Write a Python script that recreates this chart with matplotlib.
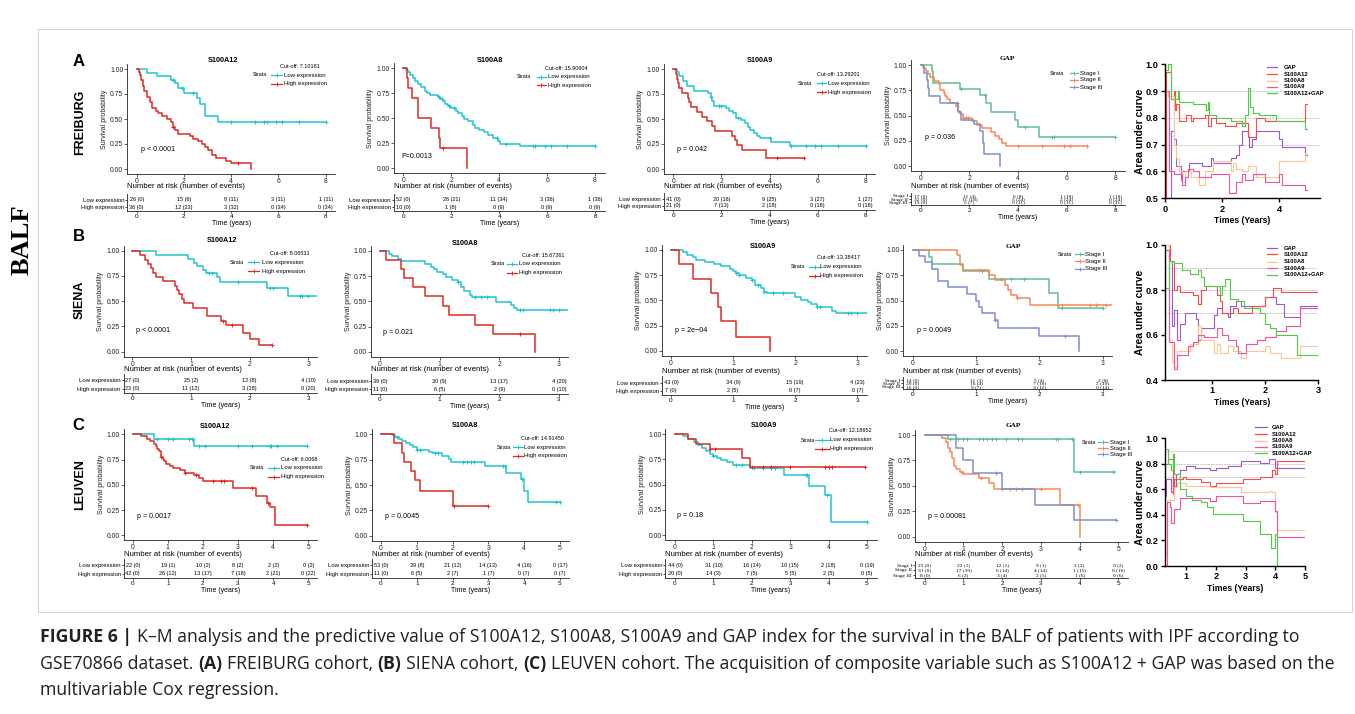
"""
Figura 6: curvas K-M (FREIBURG, SIENA, LEUVEN) e AUC dependente do tempo
"""
import matplotlib
matplotlib.use('Agg')
import matplotlib.pyplot as plt
from matplotlib.lines import Line2D
from matplotlib.patches import Rectangle
import numpy as np

W, H = 1355, 714
plt.rcParams['font.family'] = 'Liberation Sans'
plt.rcParams['axes.unicode_minus'] = False

# ---------------- dados K-M: (tempo, sobrevida) e censuras ----------------
A1_LOW = [(0, 1), (0.45, .96), (0.85, .93), (1.45, .89), (1.6, .86), (1.75, .81), (2.0, .76), (2.55, .71),
          (2.7, .65), (2.9, .53), (3.45, .47), (8.0, .47)]
A1_LOW_C = [1.55, 1.9, 2.4, 4.0, 5.0, 5.4, 5.5, 5.9, 6.15, 6.85, 8.0]
A1_HIGH = [(0, 1), (0.1, .97), (0.15, .94), (0.2, .89), (0.25, .83), (0.3, .78), (0.45, .72), (0.55, .67),
           (0.65, .61), (0.8, .58), (0.9, .56), (1.05, .53), (1.3, .50), (1.45, .47), (1.55, .42), (1.6, .39),
           (1.75, .35), (2.25, .33), (2.4, .30), (2.6, .28), (2.75, .25), (2.9, .22), (3.0, .19), (3.2, .14),
           (3.35, .11), (3.8, .08), (4.0, .06), (4.85, 0)]
A1_HIGH_C = [1.55, 4.3]

A2_LOW = [(0, 1), (0.1, .98), (0.2, .96), (0.3, .93), (0.4, .9), (0.5, .87), (0.6, .84), (0.75, .81), (0.9, .77),
          (1.0, .75), (1.1, .73), (1.45, .71), (1.55, .69), (1.65, .67), (1.75, .64), (1.85, .62), (2.0, .60),
          (2.2, .57), (2.3, .55), (2.45, .52), (2.55, .49), (2.7, .47), (2.9, .43), (3.0, .40), (3.15, .38),
          (3.35, .36), (3.55, .33), (3.75, .30), (3.95, .27), (4.05, .24), (4.85, .22), (8.0, .22)]
A2_LOW_C = [1.5, 1.6, 1.9, 2.1, 3.9, 4.3, 5.4, 5.5, 5.9, 6.15, 6.85, 8.0]
A2_HIGH = [(0, 1), (0.14, .9), (0.2, .8), (0.35, .7), (0.6, .5), (1.15, .4), (1.48, .3), (1.52, .2), (2.67, 0)]
A2_HIGH_C = [1.65]

A3_LOW = [(0, 1), (0.15, .97), (0.25, .93), (0.4, .88), (0.55, .83), (0.85, .78), (1.45, .76), (1.55, .72),
          (1.6, .68), (1.7, .63), (2.2, .61), (2.3, .58), (2.5, .56), (2.6, .51), (2.8, .49), (3.0, .46),
          (3.1, .42), (3.2, .39), (3.35, .36), (3.5, .33), (3.6, .31), (4.05, .27), (4.85, .23), (8.0, .23)]
A3_LOW_C = [1.55, 1.9, 2.0, 2.7, 4.0, 4.9, 5.5, 5.9, 6.15, 6.85, 8.0]
A3_HIGH = [(0, 1), (0.1, .95), (0.15, .90), (0.2, .86), (0.25, .81), (0.35, .76), (0.6, .71), (0.65, .67),
           (0.75, .62), (1.0, .57), (1.2, .52), (1.4, .48), (1.6, .43), (1.75, .38), (2.45, .33), (2.55, .29),
           (2.65, .24), (2.85, .19), (3.85, .11), (5.45, .11)]
A3_HIGH_C = [4.3, 5.45]

A4_S1 = [(0, 1), (0.45, .94), (0.52, .82), (1.62, .76), (2.45, .70), (2.68, .62), (2.9, .54), (3.88, .46),
         (4.0, .39), (4.85, .29), (8.0, .29)]
A4_S1_C = [1.65, 2.65, 4.3, 5.4, 5.5, 8.0]
A4_S2 = [(0, 1), (0.1, .97), (0.2, .94), (0.3, .91), (0.4, .88), (0.55, .84), (0.75, .81), (0.8, .75),
         (0.95, .72), (1.0, .69), (1.1, .66), (1.2, .62), (1.45, .60), (1.55, .55), (1.6, .52), (1.75, .48),
         (2.1, .45), (2.3, .41), (2.5, .38), (2.9, .34), (3.05, .30), (3.2, .27), (3.35, .23), (3.5, .20),
         (6.85, .20)]
A4_S2_C = [1.5, 1.75, 1.85, 1.95, 4.0, 5.0, 5.9, 6.15, 6.85]
A4_S3 = [(0, 1), (0.15, .92), (0.25, .85), (0.3, .77), (0.35, .69), (0.8, .62), (1.55, .54), (1.65, .46),
         (2.2, .42), (2.45, .35), (2.55, .23), (2.6, .12), (3.25, 0)]
A4_S3_C = [1.5]

B1_LOW = [(0, 1), (0.4, .96), (0.95, .92), (1.05, .88), (1.1, .85), (1.2, .81), (1.25, .78), (1.45, .74),
          (1.5, .69), (2.3, .63), (2.65, .55), (3.15, .55)]
B1_LOW_C = [1.3, 1.35, 1.8, 2.35, 2.4, 2.85, 2.9, 3.0]
B1_HIGH = [(0, 1), (0.13, .96), (0.22, .91), (0.27, .87), (0.32, .83), (0.36, .78), (0.4, .74), (0.53, .70),
           (0.73, .65), (0.76, .61), (0.8, .57), (0.84, .52), (0.88, .48), (1.04, .43), (1.27, .35), (1.52, .30),
           (1.6, .26), (1.88, .19), (2.0, .13), (2.16, .07), (2.38, .07)]
B1_HIGH_C = [1.55, 1.7, 2.38]

B2_LOW = [(0, 1), (0.15, .97), (0.2, .95), (0.3, .92), (0.35, .90), (0.75, .87), (0.85, .84), (0.9, .82),
          (0.95, .79), (1.05, .77), (1.1, .74), (1.2, .71), (1.3, .69), (1.35, .64), (1.4, .60), (1.5, .56),
          (1.55, .54), (1.95, .49), (2.2, .46), (2.25, .43), (2.3, .41), (3.15, .41)]
B2_LOW_C = [1.3, 1.6, 1.7, 1.8, 2.35, 2.4, 2.85, 2.9, 3.0]
B2_HIGH = [(0, 1), (0.1, .91), (0.35, .82), (0.4, .73), (0.55, .64), (0.75, .55), (1.05, .45), (1.15, .36),
           (1.6, .27), (1.9, .18), (2.6, 0)]
B2_HIGH_C = [2.35]

B3_LOW = [(0, 1), (0.2, .98), (0.25, .95), (0.35, .93), (0.4, .90), (0.55, .88), (0.7, .86), (0.8, .84),
          (0.95, .81), (1.0, .79), (1.05, .77), (1.1, .75), (1.2, .72), (1.3, .70), (1.35, .65), (1.45, .62),
          (1.5, .58), (1.55, .57), (2.0, .53), (2.1, .50), (2.2, .48), (2.25, .46), (2.35, .43), (2.6, .39),
          (2.65, .37), (3.15, .37)]
B3_LOW_C = [1.05, 1.1, 1.3, 1.4, 1.5, 1.65, 1.8, 2.35, 2.4, 2.85, 2.9, 3.0]
B3_HIGH = [(0, 1), (0.13, .86), (0.35, .71), (0.65, .57), (0.76, .43), (0.8, .29), (1.05, .14), (1.6, 0)]
B3_HIGH_C = []

B4_S1 = [(0, 1), (0.25, .93), (0.3, .86), (0.8, .79), (1.2, .71), (2.15, .57), (2.3, .43), (3.0, .43)]
B4_S1_C = [1.1, 1.4, 1.55, 1.75, 2.35, 3.0]
B4_S2 = [(0, 1), (0.7, .95), (0.75, .85), (0.8, .80), (1.2, .75), (1.3, .70), (1.45, .65), (1.5, .60),
         (1.55, .55), (1.65, .52), (1.85, .46), (3.15, .46)]
B4_S2_C = [1.05, 1.65, 2.35, 2.8, 2.9, 3.05]
B4_S3 = [(0, 1), (0.1, .94), (0.2, .88), (0.3, .81), (0.4, .69), (0.55, .63), (0.85, .56), (1.0, .50),
         (1.05, .44), (1.1, .38), (1.3, .31), (1.35, .23), (2.0, .15), (2.63, 0)]
B4_S3_C = [1.3, 2.4]

C1_LOW = [(0, 1), (0.6, .95), (1.75, .88), (4.95, .88)]
C1_LOW_C = [0.7, 1.0, 1.15, 1.6, 1.7, 1.9, 2.05, 3.0, 3.4, 3.9, 3.95, 4.1, 4.95]
C1_HIGH = [(0, 1), (0.25, .98), (0.4, .95), (0.5, .93), (0.6, .90), (0.65, .88), (0.7, .85), (0.75, .83),
           (0.8, .78), (0.85, .76), (0.9, .74), (0.95, .71), (1.05, .69), (1.15, .67), (1.35, .65), (1.5, .62),
           (1.75, .60), (1.9, .57), (2.0, .54), (2.85, .47), (3.5, .39), (3.82, .32), (3.92, .28), (4.05, .105),
           (4.95, .105)]
C1_HIGH_C = [0.8, 1.5, 1.8, 2.3, 2.5, 2.6, 3.4, 3.85, 4.95]

C2_LOW = [(0, 1), (0.3, .99), (0.4, .97), (0.5, .95), (0.6, .93), (0.7, .91), (0.8, .89), (0.9, .87), (1.0, .85),
          (1.35, .83), (1.45, .82), (1.7, .79), (1.9, .76), (1.95, .73), (2.9, .69), (3.5, .62), (3.9, .56),
          (4.0, .44), (4.1, .33), (5.0, .33)]
C2_LOW_C = [0.45, 1.0, 1.1, 1.5, 1.6, 2.3, 2.4, 2.5, 2.6, 3.4, 3.45, 3.95, 4.9, 5.0]
C2_HIGH = [(0, 1), (0.35, .91), (0.6, .82), (0.65, .73), (0.85, .64), (0.95, .55), (1.1, .44), (2.0, .29),
           (3.0, .29)]
C2_HIGH_C = [2.05, 3.0]

C3_LOW = [(0, 1), (0.2, .98), (0.35, .95), (0.5, .92), (0.6, .89), (0.7, .86), (0.8, .83), (0.9, .80),
          (1.0, .78), (1.1, .76), (1.2, .74), (1.35, .72), (1.5, .69), (1.95, .66), (2.85, .59), (3.5, .49),
          (3.9, .40), (4.05, .13), (5.0, .13)]
C3_LOW_C = [1.0, 1.6, 1.75, 2.05, 2.3, 2.5, 2.6, 3.4, 3.45, 3.95, 5.0]
C3_HIGH = [(0, 1), (0.35, .95), (0.55, .90), (0.9, .85), (1.75, .76), (1.95, .67), (4.95, .67)]
C3_HIGH_C = [0.9, 1.05, 2.0, 2.3, 2.5, 3.0, 3.9, 4.0, 4.1, 4.95]

C4_S1 = [(0, 1), (0.6, .96), (3.85, .64), (4.9, .64)]
C4_S1_C = [0.65, 0.85, 1.0, 1.1, 1.4, 1.5, 1.6, 1.75, 1.85, 2.1, 2.4, 2.5, 3.4, 3.45, 3.8, 4.0, 4.85]
C4_S2 = [(0, 1), (0.45, .97), (0.55, .93), (0.6, .87), (0.65, .83), (0.7, .77), (0.75, .70), (0.8, .67),
         (0.9, .64), (1.0, .62), (1.4, .58), (1.65, .53), (1.8, .47), (3.5, .31), (4.0, 0)]
C4_S2_C = [0.95, 1.45, 2.0, 2.2, 2.35, 2.5, 3.0, 3.95]
C4_S3 = [(0, 1), (0.8, .875), (1.0, .75), (1.25, .625), (2.0, .47), (2.85, .31), (3.85, .16), (4.95, .16)]
C4_S3_C = [1.85, 4.95]

# ---------------- tabelas de risco: (n em risco, eventos) ----------------
A1_RISK = [[(26, 0), (15, 6), (8, 11), (3, 11), (1, 11)], [(36, 0), (12, 23), (3, 32), (0, 34), (0, 34)]]
A2_RISK = [[(52, 0), (26, 21), (11, 34), (3, 36), (1, 36)], [(10, 0), (1, 8), (0, 9), (0, 9), (0, 9)]]
A3_RISK = [[(41, 0), (20, 16), (9, 25), (3, 27), (1, 27)], [(21, 0), (7, 13), (2, 18), (0, 18), (0, 18)]]
A4_RISK = [[(17, 0), (11, 4), (6, 8), (1, 10), (1, 10)], [(32, 0), (11, 18), (5, 24), (2, 24), (0, 24)],
           [(13, 0), (5, 7), (0, 11), (0, 11), (0, 11)]]
B1_RISK = [[(27, 0), (25, 2), (12, 8), (4, 10)], [(23, 0), (11, 12), (3, 18), (0, 20)]]
B2_RISK = [[(39, 0), (30, 9), (13, 17), (4, 20)], [(11, 0), (6, 5), (2, 9), (0, 10)]]
B3_RISK = [[(43, 0), (34, 9), (15, 19), (4, 23)], [(7, 0), (2, 5), (0, 7), (0, 7)]]
B4_RISK = [[(14, 0), (11, 3), (5, 4), (2, 8)], [(20, 0), (16, 4), (7, 10), (2, 10)],
           [(16, 0), (9, 7), (3, 12), (0, 14)]]
C1_RISK = [[(22, 0), (19, 1), (10, 2), (8, 2), (2, 2), (0, 2)], [(42, 0), (26, 12), (13, 17), (7, 18), (2, 21), (0, 22)]]
C2_RISK = [[(53, 0), (39, 8), (21, 12), (14, 13), (4, 16), (0, 17)], [(11, 0), (6, 5), (2, 7), (1, 7), (0, 7), (0, 7)]]
C3_RISK = [[(44, 0), (31, 10), (16, 14), (10, 15), (2, 18), (0, 19)], [(20, 0), (14, 3), (7, 5), (5, 5), (2, 5), (0, 5)]]
C4_RISK = [[(25, 0), (22, 1), (12, 1), (9, 1), (2, 2), (0, 2)], [(31, 0), (17, 10), (6, 14), (4, 14), (1, 15), (0, 16)],
           [(8, 0), (6, 2), (3, 4), (2, 5), (1, 6), (0, 6)]]

TIMES_A = [0, 2, 4, 6, 8]
TIMES_B = [0, 1, 2, 3]
TIMES_C = [0, 1, 2, 3, 4, 5]
EXPR_LABELS = ['Low expression', 'High expression']
STAGE_LABELS = ['Stage I', 'Stage II', 'Stage III']
CUTOFFS = {'A1': '7.10181', 'A2': '15.90604', 'A3': '13.29201', 'B1': '8.06531', 'B2': '15.67261',
           'B3': '13.38417', 'C1': '6.0068', 'C2': '14.91450', 'C3': '12.18652'}
PVALUES = {'A1': 'p < 0.0001', 'A2': 'P=0.0013', 'A3': 'p = 0.042', 'A4': 'p = 0.036',
           'B1': 'p < 0.0001', 'B2': 'p = 0.021', 'B3': 'p = 2e\u221204', 'B4': 'p = 0.0049',
           'C1': 'p = 0.0017', 'C2': 'p = 0.0045', 'C3': 'p = 0.18', 'C4': 'p = 0.00081'}

# ---------------- AUC dependente do tempo: (tempo, AUC) ----------------
AUC_NAMES = ['GAP', 'S100A12', 'S100A8', 'S100A9', 'S100A12+GAP']
A5_GAP = [(0.1, .5), (0.2, .75), (0.3, .72), (0.4, .62), (0.55, .57), (0.6, .6), (0.85, .63), (1.3, .62),
          (1.6, .65), (1.7, .63), (2.3, .65), (2.5, .66), (2.6, .70), (2.7, .75), (2.9, .73), (2.95, .69),
          (3.05, .72), (3.2, .75), (4.0, .72), (4.1, .69), (4.9, .66), (5.0, .66)]
A5_S100A12 = [(0.02, .45), (0.05, .97), (0.2, .87), (0.3, .9), (0.35, .83), (0.4, .85), (0.5, .79), (0.75, .81),
              (0.9, .79), (1.0, .8), (1.4, .81), (1.5, .77), (1.6, .80), (1.8, .78), (2.1, .77), (2.5, .78),
              (2.9, .73), (3.2, .80), (3.5, .79), (4.9, .85), (5.0, .85)]
A5_S100A8 = [(0.05, .9), (0.1, .88), (0.3, .7), (0.4, .65), (0.5, .6), (0.6, .56), (0.7, .6), (0.9, .58),
             (1.2, .55), (1.4, .6), (1.7, .64), (2.3, .6), (2.4, .63), (2.5, .61), (2.7, .6), (2.9, .62),
             (3.2, .58), (4.0, .64), (4.9, .67), (5.0, .67)]
A5_S100A9 = [(0.05, .9), (0.15, .6), (0.3, .59), (0.6, .55), (0.7, .58), (0.8, .61), (1.0, .6), (1.2, .58),
             (1.6, .59), (2.25, .52), (2.5, .56), (2.7, .59), (2.8, .57), (3.1, .59), (3.5, .56), (4.0, .59),
             (4.1, .55), (4.9, .53), (5.0, .53)]
A5_COMB = [(0.05, .98), (0.1, 1.0), (0.2, .87), (0.45, .9), (0.5, .86), (1.0, .85), (1.45, .83), (1.5, .86),
           (1.55, .81), (1.8, .80), (2.3, .79), (2.7, .77), (2.8, .81), (2.9, .91), (3.0, .84), (3.1, .82),
           (3.3, .81), (3.9, .79), (4.9, .76), (5.0, .76)]

B5_GAP = [(0.13, .98), (0.2, .93), (0.25, .64), (0.3, .71), (0.35, .58), (0.4, .65), (0.5, .70), (0.7, .67),
          (0.75, .58), (0.8, .63), (1.05, .69), (1.1, .72), (1.2, .70), (1.3, .68), (1.35, .73), (1.45, .75),
          (1.55, .73), (2.0, .77), (2.2, .74), (2.35, .68), (2.65, .73), (3.0, .73)]
B5_S100A12 = [(0.13, 1.0), (0.22, .93), (0.3, .8), (0.35, .82), (0.4, .79), (0.65, .78), (0.75, .74), (0.8, .80),
              (0.9, .82), (1.1, .78), (1.15, .75), (1.2, .70), (1.4, .72), (1.5, .70), (1.75, .73), (2.0, .77),
              (2.15, .81), (2.3, .79), (3.0, .79)]
B5_S100A8 = [(0.13, 1.0), (0.2, .58), (0.25, .48), (0.3, .46), (0.35, .53), (0.6, .56), (0.75, .64), (0.8, .58),
             (1.05, .52), (1.1, .56), (1.15, .52), (1.3, .55), (1.4, .53), (1.55, .50), (1.65, .53), (2.0, .55),
             (2.1, .52), (2.3, .50), (2.65, .55), (3.0, .55)]
B5_S100A9 = [(0.13, .98), (0.2, .57), (0.3, .45), (0.35, .51), (0.55, .55), (0.65, .57), (0.75, .60), (0.85, .59),
             (1.1, .63), (1.2, .60), (1.3, .58), (1.45, .55), (1.5, .52), (1.65, .56), (1.85, .58), (2.0, .59),
             (2.2, .62), (2.4, .64), (2.65, .72), (3.0, .72)]
B5_COMB = [(0.13, .81), (0.2, .93), (0.3, .92), (0.45, .89), (0.6, .87), (0.75, .89), (0.8, .86), (0.85, .82),
           (1.15, .78), (1.2, .82), (1.25, .85), (1.35, .76), (1.5, .75), (1.6, .72), (1.9, .70), (2.0, .65),
           (2.1, .63), (2.2, .60), (2.6, .51), (3.0, .51)]

C5_GAP = [(0.3, .55), (0.33, .68), (0.5, .58), (0.6, .63), (0.65, .72), (0.8, .75), (1.0, .78), (1.3, .77),
          (1.8, .75), (2.0, .77), (2.4, .78), (2.85, .82), (3.5, .81), (3.8, .84), (4.0, .77), (5.0, .77)]
C5_S100A12 = [(0.3, .80), (0.4, .84), (0.55, .56), (0.6, .68), (0.9, .70), (1.0, .68), (1.5, .66), (1.8, .63),
              (2.0, .65), (2.9, .68), (3.5, .70), (3.9, .75), (4.0, .72), (4.05, .82), (5.0, .82)]
C5_S100A8 = [(0.3, .1), (0.35, .52), (0.6, .62), (0.7, .65), (1.0, .63), (1.8, .62), (2.85, .58), (3.8, .59),
             (3.9, .58), (4.0, .42), (4.05, .28), (5.0, .28)]
C5_S100A9 = [(0.3, 0.0), (0.35, .50), (0.45, .46), (0.5, .34), (0.6, .45), (0.8, .53), (1.8, .51), (2.0, .55),
             (2.9, .49), (3.5, .51), (4.0, .43), (4.05, .23), (5.0, .23)]
C5_COMB = [(0.3, .92), (0.4, .80), (0.5, .75), (0.55, .88), (0.6, .72), (0.8, .60), (1.0, .55), (1.2, .52),
           (1.5, .50), (1.7, .46), (1.9, .41), (2.9, .35), (3.5, .25), (3.85, .14), (4.0, .25), (4.05, 0.0)]

# ---------------- cores ----------------
CYAN = '#22c3cd'
RED = '#dc2b24'
STAGE_COLORS = ['#5fbf95', '#f8865a', '#7f90cb']
AUC_COLORS = ['#9d5ac8', '#ff4848', '#fbc690', '#f2529e', '#4fcc45']

fig = plt.figure(figsize=(W / 100, H / 100), dpi=100)


def fx(x):
    return x / W


def fy(y):
    return 1 - y / H


def ftext(x, y, s, **kw):
    return fig.text(fx(x), fy(y), s, **kw)


def px_axes(left, top, right, bottom):
    return fig.add_axes([fx(left), fy(bottom), (right - left) / W, (bottom - top) / H])


def km_panel(key, lay, curves, colors, labels, risk, times, serif=False):
    T = times[-1]
    s = (lay['x1'] - lay['x0']) / T
    xlim = (-0.05 * T, 1.05 * T)
    left, right = lay['x0'] + xlim[0] * s, lay['x0'] + xlim[1] * s
    sy = lay['y0'] - lay['y1']
    ax = px_axes(left, lay['y1'] - 0.05 * sy, right, lay['y0'] + 0.05 * sy)
    ax.set_xlim(xlim)
    ax.set_ylim(-0.05, 1.05)
    for (pts, cens), c in zip(curves, colors):
        t = np.array([p[0] for p in pts])
        v = np.array([p[1] for p in pts])
        ax.step(t, v, where='post', color=c, lw=1.1)
        if cens:
            idx = np.searchsorted(t, cens, side='right') - 1
            ax.plot(cens, v[idx], ls='none', marker='+', ms=3.2, mew=0.7, color=c)
    for sp in ['top', 'right']:
        ax.spines[sp].set_visible(False)
    for sp in ['left', 'bottom']:
        ax.spines[sp].set_linewidth(0.6)
        ax.spines[sp].set_color('#222222')
    ax.set_xticks(times)
    ax.set_yticks([0, .25, .5, .75, 1])
    ax.set_yticklabels(['0.00', '0.25', '0.50', '0.75', '1.00'])
    ax.tick_params(labelsize=4.9, length=2, width=0.5, pad=0.8, colors='#222222')
    ax.set_ylabel('Survival probability', fontsize=5, labelpad=1.5, color='#222222')

    tfam = 'Liberation Serif' if serif else 'Liberation Sans'
    ftext(*lay['title'], lay['name'], fontsize=5.2, fontweight='bold',
          family=tfam, ha='center', va='center')
    ftext(*lay['p'], PVALUES[key], fontsize=5.1, ha='left', va='center')

    # legenda
    if key in CUTOFFS:
        ftext(*lay['cut'], 'Cut-off: ' + CUTOFFS[key], fontsize=4.0, ha='center', va='center')
    ftext(lay['strata'], lay['ys'][0], 'Strata', fontsize=3.8, ha='center', va='center')
    for yy, lab, c in zip(lay['ys'], labels, colors):
        fig.add_artist(Line2D([fx(lay['lx'][0]), fx(lay['lx'][1])], [fy(yy)] * 2, color=c, lw=0.9))
        fig.add_artist(Line2D([fx((lay['lx'][0] + lay['lx'][1]) / 2)], [fy(yy)], marker='+', ms=3,
                              mew=0.7, color=c))
        ftext(lay['tx'], yy, lab, fontsize=4.3, ha='left', va='center')

    # tabela de risco
    ftext(left, lay['nar'], 'Number at risk (number of events)', fontsize=5.6, ha='left', va='center')
    rows_y, axis_y = lay['rows'], lay['axis']
    n = len(rows_y)
    d = rows_y[1] - rows_y[0]
    tax = px_axes(left, rows_y[0] - 0.8 * d, right, axis_y)
    tax.set_xlim(xlim)
    tax.set_ylim(n - (axis_y - rows_y[0]) / d, n + 0.8)
    fam = 'Liberation Serif' if serif else 'Liberation Sans'
    fs = 3.9 if serif else 4.0
    for i, row in enumerate(risk):
        for tt, (nr, ev) in zip(times, row):
            tax.text(tt, n - i, f'{nr} ({ev})', ha='center', va='center', fontsize=fs, family=fam)
    tax.set_yticks(list(range(n, 0, -1)))
    tax.set_yticklabels(labels, fontsize=fs if serif else 4.3, family=fam)
    tax.set_xticks(times)
    for sp in ['top', 'right']:
        tax.spines[sp].set_visible(False)
    for sp in ['left', 'bottom']:
        tax.spines[sp].set_linewidth(0.6)
        tax.spines[sp].set_color('#222222')
    tax.tick_params(axis='x', labelsize=4.6, length=1.5, width=0.5, pad=0.8)
    tax.tick_params(axis='y', length=1.5, width=0.5, pad=0.6)
    tax.set_xlabel('Time (years)', fontsize=5, labelpad=0.6)


def auc_panel(lay, series, xticks, yticks):
    ax = px_axes(lay['l'], lay['t'], lay['r'], lay['b'])
    ax.set_xlim(lay['xlim'])
    ax.set_ylim(lay['ylim'])
    for v in (0.7, 0.8, 0.9):
        ax.axhline(v, color='#b8b8b8', ls=(0, (2, 1.2)), lw=0.6, zorder=0)
    for pts, c in zip(series, AUC_COLORS):
        ax.plot([p[0] for p in pts], [p[1] for p in pts], drawstyle='steps-post', color=c, lw=0.8)
    for sp in ['top', 'right']:
        ax.spines[sp].set_visible(False)
    for sp in ['left', 'bottom']:
        ax.spines[sp].set_linewidth(1.0)
    ax.set_xticks(xticks)
    ax.set_yticks(yticks)
    ax.set_yticklabels([f'{v:.1f}' for v in yticks])
    ax.tick_params(labelsize=6.6, length=3, width=1.0, pad=1.5)
    for lab in ax.get_xticklabels() + ax.get_yticklabels():
        lab.set_fontweight('bold')
    ax.set_ylabel('Area under curve', fontsize=7.4, fontweight='bold', labelpad=0.5)
    ax.set_xlabel('Times (Years)', fontsize=6.2, fontweight='bold', labelpad=2)
    for yy, name, c in zip(lay['leg_y'], AUC_NAMES, AUC_COLORS):
        fig.add_artist(Line2D([fx(lay['leg_x'][0]), fx(lay['leg_x'][1])], [fy(yy)] * 2, color=c, lw=0.9))
        ftext(lay['leg_tx'], yy, name, fontsize=4.2, fontweight='bold', ha='left', va='center')


# ---------------- posicoes (pixels) ----------------
LAY = {
    'A1': dict(name='S100A12', x0=136.7, x1=325.7, y1=69, y0=169, title=(222.7, 61), p=(141, 149.3),
               cut=(300, 66), strata=260, lx=(271, 282), tx=284, ys=(75, 84), nar=187, rows=(200, 207), axis=211),
    'A2': dict(name='S100A8', x0=403.3, x1=595, y1=68.3, y0=168.3, title=(490, 60), p=(401.7, 156.7),
               cut=(566.7, 69), strata=524, lx=(536.7, 546), tx=547.5, ys=(76.7, 85), nar=187, rows=(200, 207), axis=211),
    'A3': dict(name='S100A9', x0=673.3, x1=865.7, y1=69, y0=169, title=(760, 60), p=(676.7, 149.3),
               cut=(838.3, 74.3), strata=805, lx=(817.3, 826), tx=827.5, ys=(83.3, 92.3), nar=186.5, rows=(199, 206), axis=210),
    'A4': dict(name='GAP', x0=920.7, x1=1115.3, y1=65, y0=166.3, title=(1007, 58), p=(925, 137.3),
               strata=1056.7, lx=(1070, 1078.3), tx=1079.5, ys=(73.3, 80, 87.3), nar=186.5, rows=(195.7, 199, 202.3), axis=205),
    'B1': dict(name='S100A12', x0=132.3, x1=308.3, y1=250.7, y0=351.7, title=(221.7, 240.7), p=(136, 330),
               cut=(290, 253.3), strata=236.7, lx=(248.3, 259.3), tx=261.7, ys=(262.3, 271), nar=369.5, rows=(380.3, 388.7), axis=393.3),
    'B2': dict(name='S100A8', x0=380, x1=559, y1=251, y0=351.7, title=(465, 243.3), p=(383.3, 332.3),
               cut=(543.3, 255), strata=498.3, lx=(506.7, 517.3), tx=519.3, ys=(263.7, 272.7), nar=369.5, rows=(381, 389.3), axis=394),
    'B3': dict(name='S100A9', x0=671, x1=857.3, y1=250, y0=350.7, title=(763.3, 246.7), p=(675, 330.7),
               cut=(838.3, 257.7), strata=798.3, lx=(809.3, 820), tx=820.5, ys=(266.7, 275.7), nar=371, rows=(382.7, 390.7), axis=395),
    'B4': dict(name='GAP', x0=912.7, x1=1102.7, y1=250, y0=351, title=(1013.3, 246.7), p=(916.7, 331),
               strata=1065, lx=(1075, 1084), tx=1085, ys=(254, 261.3, 268.7), nar=371, rows=(380, 383.3, 386.7), axis=389.3),
    'C1': dict(name='S100A12', x0=132.7, x1=308.3, y1=434.3, y0=535.3, title=(215, 426.7), p=(136.7, 516),
               cut=(299.3, 459.3), strata=256.7, lx=(268.3, 279.3), tx=280.7, ys=(467.7, 476.7), nar=554, rows=(565.3, 573.7), axis=578.3),
    'C2': dict(name='S100A8', x0=381, x1=560, y1=434.3, y0=535.7, title=(465, 425.7), p=(385, 516),
               cut=(542.7, 439), strata=504.3, lx=(513.3, 523.3), tx=524, ys=(447.3, 455.7), nar=554, rows=(565.3, 573.7), axis=578.3),
    'C3': dict(name='S100A9', x0=675, x1=867, y1=434, y0=535, title=(764, 425.7), p=(677.2, 515.7),
               cut=(850.7, 430.7), strata=807.5, lx=(814.5, 828.6), tx=830, ys=(440, 448.7), nar=554, rows=(565.3, 573.7), axis=578.3),
    'C4': dict(name='GAP', x0=924.7, x1=1118.4, y1=435, y0=536.7, title=(1013.8, 425.7), p=(928, 516.7),
               strata=1088.8, lx=(1098, 1108), tx=1110, ys=(442.3, 448.3, 454.3), nar=554, rows=(565, 570, 574.7), axis=577.7),
}

EXPR = [CYAN, RED]
km_panel('A1', LAY['A1'], [(A1_LOW, A1_LOW_C), (A1_HIGH, A1_HIGH_C)], EXPR, EXPR_LABELS, A1_RISK, TIMES_A)
km_panel('A2', LAY['A2'], [(A2_LOW, A2_LOW_C), (A2_HIGH, A2_HIGH_C)], EXPR, EXPR_LABELS, A2_RISK, TIMES_A)
km_panel('A3', LAY['A3'], [(A3_LOW, A3_LOW_C), (A3_HIGH, A3_HIGH_C)], EXPR, EXPR_LABELS, A3_RISK, TIMES_A)
km_panel('A4', LAY['A4'], [(A4_S1, A4_S1_C), (A4_S2, A4_S2_C), (A4_S3, A4_S3_C)], STAGE_COLORS, STAGE_LABELS,
         A4_RISK, TIMES_A, serif=True)
km_panel('B1', LAY['B1'], [(B1_LOW, B1_LOW_C), (B1_HIGH, B1_HIGH_C)], EXPR, EXPR_LABELS, B1_RISK, TIMES_B)
km_panel('B2', LAY['B2'], [(B2_LOW, B2_LOW_C), (B2_HIGH, B2_HIGH_C)], EXPR, EXPR_LABELS, B2_RISK, TIMES_B)
km_panel('B3', LAY['B3'], [(B3_LOW, B3_LOW_C), (B3_HIGH, B3_HIGH_C)], EXPR, EXPR_LABELS, B3_RISK, TIMES_B)
km_panel('B4', LAY['B4'], [(B4_S1, B4_S1_C), (B4_S2, B4_S2_C), (B4_S3, B4_S3_C)], STAGE_COLORS, STAGE_LABELS,
         B4_RISK, TIMES_B, serif=True)
km_panel('C1', LAY['C1'], [(C1_LOW, C1_LOW_C), (C1_HIGH, C1_HIGH_C)], EXPR, EXPR_LABELS, C1_RISK, TIMES_C)
km_panel('C2', LAY['C2'], [(C2_LOW, C2_LOW_C), (C2_HIGH, C2_HIGH_C)], EXPR, EXPR_LABELS, C2_RISK, TIMES_C)
km_panel('C3', LAY['C3'], [(C3_LOW, C3_LOW_C), (C3_HIGH, C3_HIGH_C)], EXPR, EXPR_LABELS, C3_RISK, TIMES_C)
km_panel('C4', LAY['C4'], [(C4_S1, C4_S1_C), (C4_S2, C4_S2_C), (C4_S3, C4_S3_C)], STAGE_COLORS, STAGE_LABELS,
         C4_RISK, TIMES_C, serif=True)

AUC_LAY = {
    'A': dict(l=1165, t=64.3, r=1320, b=198.3, xlim=(0, 5.44), ylim=(0.5, 1.0),
              leg_x=(1267, 1277), leg_tx=1284, leg_y=(67.3, 74.3, 81, 86.7, 93.3)),
    'B': dict(l=1165, t=245, r=1318.3, b=380, xlim=(0.125, 3.0), ylim=(0.4, 1.0),
              leg_x=(1267, 1277), leg_tx=1284, leg_y=(248.3, 254.3, 261.7, 268.3, 275)),
    'C': dict(l=1165, t=438.3, r=1305, b=566, xlim=(0.294, 5.0), ylim=(0.0, 1.0),
              leg_x=(1255, 1267), leg_tx=1271.6, leg_y=(427.3, 434.3, 440.7, 446.7, 453.3)),
}
auc_panel(AUC_LAY['A'], [A5_GAP, A5_S100A12, A5_S100A8, A5_S100A9, A5_COMB], [0, 2, 4],
          [0.5, 0.6, 0.7, 0.8, 0.9, 1.0])
auc_panel(AUC_LAY['B'], [B5_GAP, B5_S100A12, B5_S100A8, B5_S100A9, B5_COMB], [1, 2, 3],
          [0.4, 0.6, 0.8, 1.0])
auc_panel(AUC_LAY['C'], [C5_GAP, C5_S100A12, C5_S100A8, C5_S100A9, C5_COMB], [1, 2, 3, 4, 5],
          [0.0, 0.2, 0.4, 0.6, 0.8, 1.0])

# ---------------- rotulos de linha / coorte ----------------
for letter, yy in (('A', 62), ('B', 237), ('C', 425)):
    ftext(78.5, yy, letter, fontsize=12, fontweight='bold', ha='center', va='center')
for name, yy in (('FREIBURG', 122), ('SIENA', 300), ('LEUVEN', 485)):
    ftext(80, yy, name, fontsize=9, fontweight='bold', rotation=90, ha='center', va='center')
ftext(22, 240, 'BALF', fontsize=19, fontweight='bold', family='Liberation Serif', rotation=90,
      ha='center', va='center')

fig.add_artist(Rectangle((fx(38), fy(612)), (1352 - 38) / W, (612 - 29) / H, transform=fig.transFigure,
                         fill=False, ec='#d4d4d4', lw=0.8))

# ---------------- legenda da figura ----------------
renderer = fig.canvas.get_renderer()
CAP_FS = 12.7
CAP_COLOR = '#231f20'


def text_width(s, bold=False):
    t = fig.text(0, 0, s, fontsize=CAP_FS, family='Open Sans', fontweight='bold' if bold else 'normal')
    w = t.get_window_extent(renderer).width
    t.remove()
    return w


SPACE = text_width('a a') - text_width('aa')


def caption_line(x, y, parts):
    for txt, bold in parts:
        t = ftext(x, y, txt, fontsize=CAP_FS, family='Open Sans', fontweight='bold' if bold else 'normal',
                  ha='left', va='center', color=CAP_COLOR)
        x += t.get_window_extent(renderer).width + SPACE


caption_line(40, 637, [('FIGURE 6 |', True),
                       ('K\u2013M analysis and the predictive value of S100A12, S100A8, S100A9 and GAP index for '
                        'the survival in the BALF of patients with IPF according to', False)])
caption_line(40, 664, [('GSE70866 dataset.', False), ('(A)', True), ('FREIBURG cohort,', False), ('(B)', True),
                       ('SIENA cohort,', False), ('(C)', True),
                       ('LEUVEN cohort. The acquisition of composite variable such as S100A12 + GAP was based on the',
                        False)])
caption_line(40, 690, [('multivariable Cox regression.', False)])

fig.savefig('out.png', dpi=100, facecolor='white')
